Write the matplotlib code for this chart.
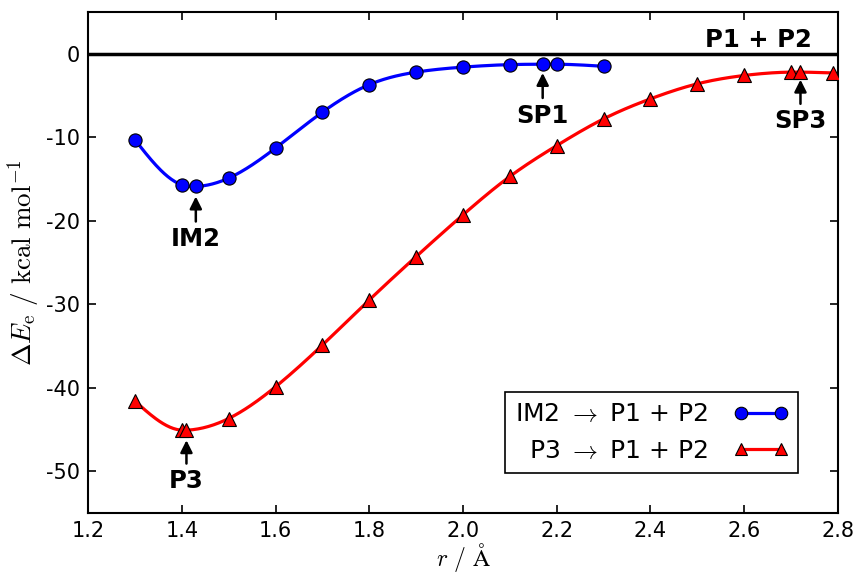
import numpy as np
import matplotlib
matplotlib.use('Agg')
import matplotlib.pyplot as plt

plt.rcParams['mathtext.fontset'] = 'cm'
plt.rcParams['axes.unicode_minus'] = False
plt.rcParams['font.size'] = 15

# IM2 -> P1 + P2
r_im2 = [1.3, 1.4, 1.43, 1.5, 1.6, 1.7, 1.8, 1.9, 2.0, 2.1, 2.17, 2.2, 2.3]
e_im2 = [-10.3, -15.7, -15.9, -14.9, -11.3, -7.0, -3.7, -2.2, -1.6, -1.3, -1.25, -1.25, -1.5]

# P3 -> P1 + P2
r_p3 = [1.3, 1.4, 1.41, 1.5, 1.6, 1.7, 1.8, 1.9, 2.0, 2.1, 2.2, 2.3, 2.4, 2.5, 2.6, 2.7, 2.72, 2.79]
e_p3 = [-41.6, -45.1, -45.1, -43.7, -39.9, -34.9, -29.5, -24.3, -19.3, -14.7, -11.0, -7.8, -5.4, -3.6, -2.6, -2.2, -2.2, -2.3]

# labels: (text, x, arrow tip y, text y)
labels = [('IM2', 1.43, -17.1, -22.2), ('SP1', 2.17, -2.3, -7.4),
          ('SP3', 2.72, -3.1, -8.1), ('P3', 1.41, -46.3, -51.2)]


def natural_spline(x, y, n=400):
    # natural cubic spline, only for drawing the smooth line
    x = np.asarray(x, float)
    y = np.asarray(y, float)
    m = len(x)
    h = np.diff(x)
    A = np.zeros((m, m))
    b = np.zeros(m)
    A[0, 0] = 1
    A[-1, -1] = 1
    for i in range(1, m - 1):
        A[i, i - 1] = h[i - 1]
        A[i, i] = 2 * (h[i - 1] + h[i])
        A[i, i + 1] = h[i]
        b[i] = 3 * ((y[i + 1] - y[i]) / h[i] - (y[i] - y[i - 1]) / h[i - 1])
    c = np.linalg.solve(A, b)
    xs = np.linspace(x[0], x[-1], n)
    idx = np.clip(np.searchsorted(x, xs) - 1, 0, m - 2)
    dx = xs - x[idx]
    bb = (y[idx + 1] - y[idx]) / h[idx] - h[idx] * (2 * c[idx] + c[idx + 1]) / 3
    dd = (c[idx + 1] - c[idx]) / (3 * h[idx])
    ys = y[idx] + bb * dx + c[idx] * dx ** 2 + dd * dx ** 3
    return xs, ys


fig = plt.figure(figsize=(8.57, 5.73), dpi=100)
ax = fig.add_axes([0.1027, 0.105, 0.8751, 0.874])

ax.axhline(0, color='k', lw=2.5, zorder=1)

xs, ys = natural_spline(r_im2, e_im2)
ax.plot(xs, ys, color='b', lw=2.3, zorder=2)
ax.plot(r_im2, e_im2, 'o', color='b', mec='k', mew=0.8, ms=9.5, zorder=3)

xs, ys = natural_spline(r_p3, e_p3)
ax.plot(xs, ys, color='r', lw=2.3, zorder=2)
ax.plot(r_p3, e_p3, '^', color='r', mec='k', mew=0.8, ms=9.5, zorder=3)

# legend proxies
h1, = ax.plot([], [], 'o-', color='b', mec='k', mew=0.8, ms=9, lw=2.3)
h2, = ax.plot([], [], '^-', color='r', mec='k', mew=0.8, ms=9, lw=2.3)
leg = ax.legend([h1, h2], [r'IM2 $\rightarrow$ P1 + P2', r'P3 $\rightarrow$ P1 + P2'],
                loc='lower right', bbox_to_anchor=(0.9467, 0.08), borderaxespad=0,
                markerfirst=False, fancybox=False, framealpha=1, edgecolor='k',
                fontsize=18, handlelength=2.2, handletextpad=1.0, numpoints=2)
leg.get_frame().set_linewidth(1.2)

for txt, x, ytip, ytxt in labels:
    ax.annotate(txt, xy=(x, ytip), xytext=(x, ytxt), ha='center', va='center',
                fontsize=17.5, fontweight='bold',
                arrowprops=dict(arrowstyle='-|>', color='k', lw=1.8, mutation_scale=18,
                                shrinkA=2, shrinkB=0))

ax.text(2.63, 1.7, 'P1 + P2', ha='center', va='center', fontsize=17.5, fontweight='bold')

ax.set_xlim(1.2, 2.8)
ax.set_ylim(-55, 5)
ax.set_xticks(np.arange(1.2, 2.81, 0.2))
ax.set_yticks(np.arange(-50, 1, 10))
ax.tick_params(direction='in', top=True, right=True, length=6, width=1.2, labelsize=15, pad=6)
for s in ax.spines.values():
    s.set_linewidth(1.5)

ax.set_xlabel(r'$r\ /\ {\rm Å}$', fontsize=17, labelpad=0)
ax.set_ylabel(r'$\Delta E_{\rm e}\ /\ {\rm kcal\ mol}^{-1}$', fontsize=19.5, labelpad=3)

fig.savefig('out.png', dpi=100)
